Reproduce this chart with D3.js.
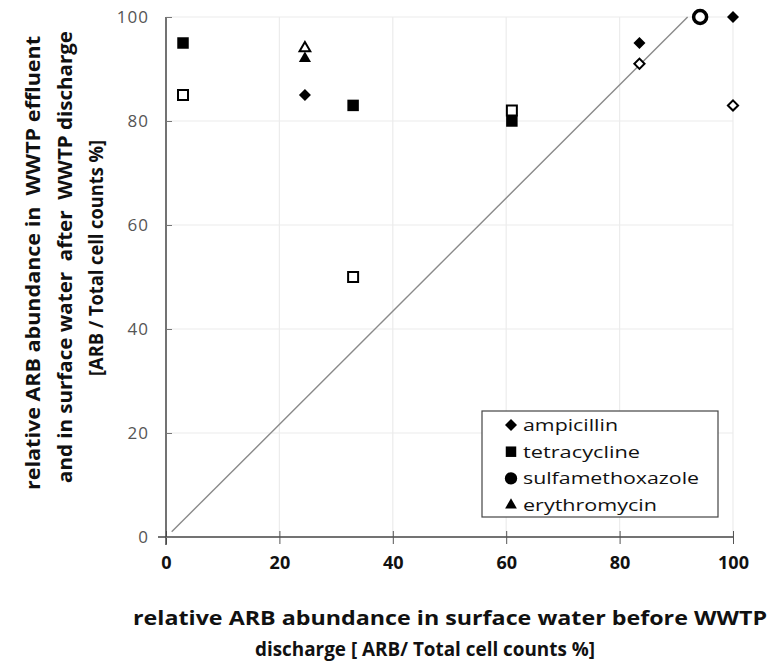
<!DOCTYPE html>
<html><head><meta charset="utf-8">
<script src="https://cdn.jsdelivr.net/npm/d3@7"></script>
<style>body{margin:0;background:#fff} text{white-space:pre}</style></head>
<body><svg id="c" width="774" height="662"></svg>
<script>
// ---- data ----
const xTicks = [0, 20, 40, 60, 80, 100];
const yTicks = [0, 20, 40, 60, 80, 100];
const legendNames = ["ampicillin", "tetracycline", "sulfamethoxazole", "erythromycin"];
const ampicillinFilled = [[24.5, 85], [83.5, 95], [100, 100]];
const ampicillinOpen = [[83.5, 91], [100, 83]];
const tetracyclineFilled = [[3, 95], [33, 83], [61, 80]];
const tetracyclineOpen = [[3, 85], [33, 50], [61, 82]];
const sulfamethoxazoleOpen = [[94.2, 100]];
const erythromycinFilled = [[24.5, 92]];
const erythromycinOpen = [[24.5, 94]];
const referenceLine = [[1, 1], [92, 100]];
const xTitle = ["relative ARB abundance in surface water before WWTP", "discharge [ ARB/ Total cell counts %]"];
const yTitle = ["relative ARB abundance in  WWTP effluent", "and in surface water  after  WWTP discharge", "[ARB / Total cell counts %]"];

// ---- layout ----
const svg = d3.select("#c");
const L = 166, R = 733, T = 17, B = 537;
const x = d3.scaleLinear().domain([0, 100]).range([L, R]);
const y = d3.scaleLinear().domain([0, 100]).range([B, T]);
const font = "'Open Sans', Lato, sans-serif";

// gridlines
svg.append("g").selectAll("line").data(xTicks.slice(1)).join("line")
  .attr("x1", d => x(d)).attr("x2", d => x(d)).attr("y1", T).attr("y2", B)
  .attr("stroke", "#ececec").attr("stroke-width", 1.2);
svg.append("g").selectAll("line").data(yTicks.slice(1)).join("line")
  .attr("x1", L).attr("x2", R).attr("y1", d => y(d)).attr("y2", d => y(d))
  .attr("stroke", "#ececec").attr("stroke-width", 1.2);

// axes
const xAxis = svg.append("g").attr("transform", `translate(0,${B})`)
  .call(d3.axisBottom(x).tickValues(xTicks).tickSizeInner(7).tickSizeOuter(0).tickPadding(12));
xAxis.selectAll(".tick line").attr("y1", -6).attr("stroke", "#555");
xAxis.select(".domain").attr("stroke", "#444").attr("stroke-width", 1.5).attr("d", `M${L - 8},0H${R}`);
xAxis.selectAll("text").attr("font-family", font).attr("font-size", 18).attr("font-weight", "bold").attr("fill", "#111");

const yAxis = svg.append("g").attr("transform", `translate(${L},0)`)
  .call(d3.axisLeft(y).tickValues(yTicks).tickSizeInner(6).tickSizeOuter(0).tickPadding(11));
yAxis.selectAll(".tick line").attr("x2", 6).attr("stroke", "#777");
yAxis.select(".domain").attr("stroke", "#444").attr("stroke-width", 1.5).attr("d", `M0,${T}V${B + 8}`);
yAxis.selectAll("text").attr("font-family", font).attr("font-size", 17).attr("letter-spacing", 1).attr("fill", "#555");

// reference 1:1 line
svg.append("path").datum(referenceLine)
  .attr("d", d3.line().x(d => x(d[0])).y(d => y(d[1])))
  .attr("stroke", "#8a8a8a").attr("stroke-width", 1.4).attr("fill", "none");

// markers
const sym = {
  diamond: {type: d3.symbolSquare, size: 72, rot: 45},
  square: {type: d3.symbolSquare, size: 132, rot: 0},
  circle: {type: d3.symbolCircle, size: 140, rot: 0},
  triangle: {type: d3.symbolTriangle, size: 64, rot: 0}
};
function drawSeries(data, shape, filled) {
  const s = sym[shape];
  const openSize = shape === "square" ? 100 : shape === "diamond" ? 52 : shape === "triangle" ? 50 : 133;
  svg.append("g").selectAll("path").data(data).join("path")
    .attr("transform", d => `translate(${x(d[0])},${y(d[1])}) rotate(${s.rot})`)
    .attr("d", d3.symbol().type(s.type).size(filled ? s.size : openSize))
    .attr("fill", filled ? "#000" : "#fff")
    .attr("stroke", "#000")
    .attr("stroke-width", filled ? 0 : (shape === "circle" ? 3.5 : 2));
}
drawSeries(tetracyclineOpen, "square", false);
drawSeries(tetracyclineFilled, "square", true);
drawSeries(ampicillinOpen, "diamond", false);
drawSeries(ampicillinFilled, "diamond", true);
drawSeries(sulfamethoxazoleOpen, "circle", false);
drawSeries(erythromycinOpen, "triangle", false);
drawSeries(erythromycinFilled, "triangle", true);

// legend
const lg = svg.append("g");
lg.append("rect").attr("x", 482).attr("y", 411).attr("width", 236).attr("height", 106)
  .attr("fill", "#fff").attr("stroke", "#444").attr("stroke-width", 1.2);
const legendShapes = ["diamond", "square", "circle", "triangle"];
const legendSizes = [72, 110, 120, 60];
const legendWidths = [95, 117, 176, 134];
legendNames.forEach((n, i) => {
  const cy = 425 + i * 26.7;
  lg.append("path").attr("transform", `translate(511,${cy}) rotate(${sym[legendShapes[i]].rot})`)
    .attr("d", d3.symbol().type(sym[legendShapes[i]].type).size(legendSizes[i])).attr("fill", "#000");
  lg.append("text").attr("x", 523).attr("y", cy).attr("dy", "0.35em")
    .attr("font-family", font).attr("font-size", 17).attr("fill", "#111")
    .attr("textLength", legendWidths[i]).attr("lengthAdjust", "spacingAndGlyphs").text(n);
});

// axis titles
const xTitleCenters = [450, 425];
const xTitleWidths = [634, 340];
svg.append("g").selectAll("text").data(xTitle).join("text")
  .attr("x", (d, i) => xTitleCenters[i]).attr("y", (d, i) => 618 + i * 31).attr("dy", "0.35em")
  .attr("text-anchor", "middle").attr("font-family", font).attr("font-size", 20)
  .attr("font-weight", "bold").attr("fill", "#111")
  .attr("textLength", (d, i) => xTitleWidths[i]).attr("lengthAdjust", "spacingAndGlyphs").text(d => d);
const yTitleWidths = [454, 452, 236];
const yTitleCenters = [263, 257, 258];
svg.append("g").selectAll("text").data(yTitle).join("text")
  .attr("transform", (d, i) => `translate(${33 + i * 31.5},${yTitleCenters[i]}) rotate(-90)`).attr("dy", "0.35em")
  .attr("text-anchor", "middle").attr("font-family", font).attr("font-size", 20)
  .attr("font-weight", "bold").attr("fill", "#111")
  .attr("textLength", (d, i) => yTitleWidths[i]).attr("lengthAdjust", "spacingAndGlyphs").text(d => d);
</script></body></html>
